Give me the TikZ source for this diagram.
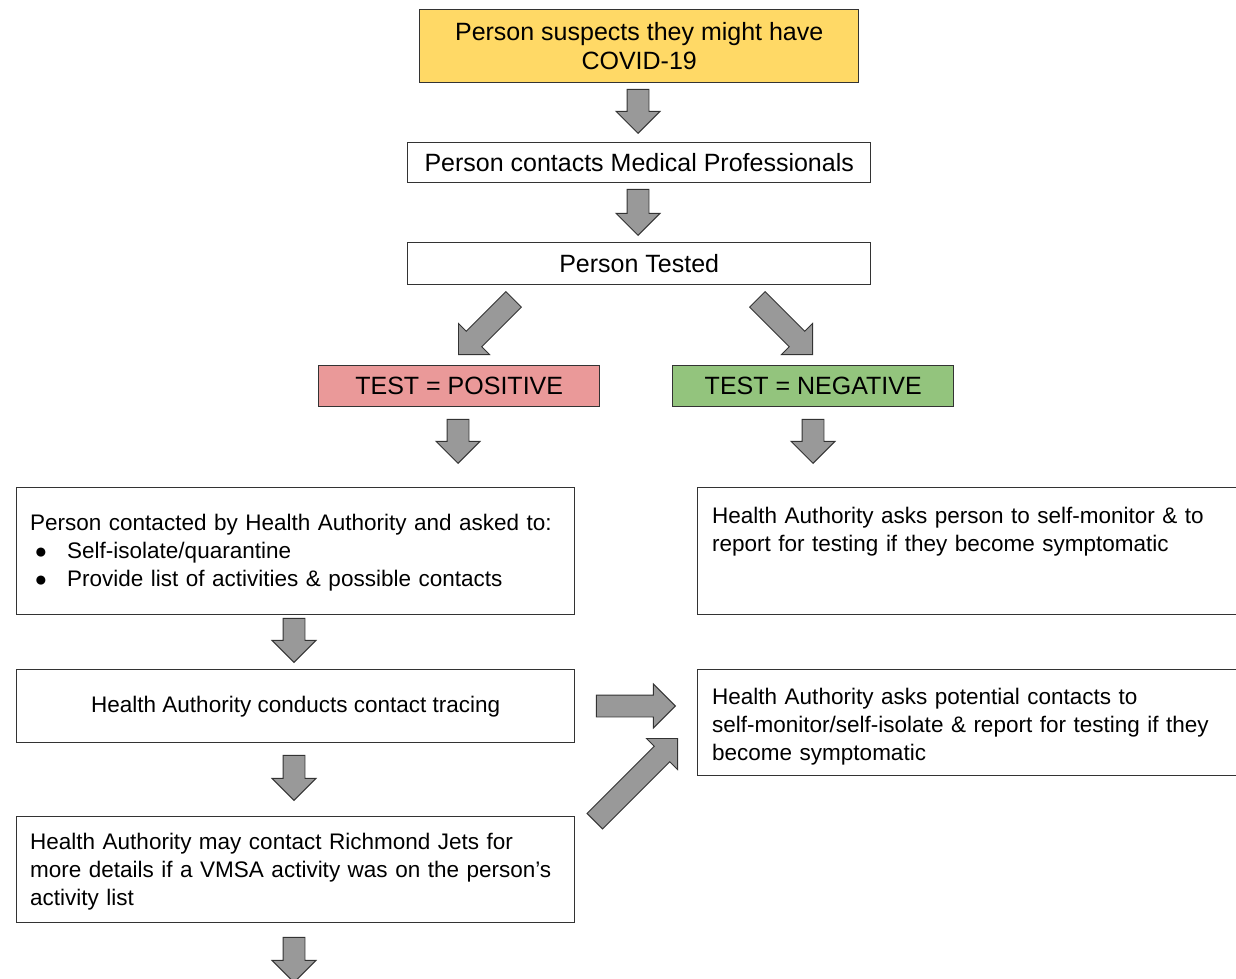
\documentclass[tikz,border=0pt]{standalone}
\usepackage{fontspec}
\setmainfont{Liberation Sans}
\usetikzlibrary{shapes.arrows}
\definecolor{yel}{HTML}{FFD966}
\definecolor{posred}{HTML}{EA9999}
\definecolor{neggreen}{HTML}{93C47D}
\definecolor{arrgray}{HTML}{999999}
\definecolor{edgec}{HTML}{333333}
\newcommand{\fsbig}{\fontsize{25}{29}\selectfont}
\newcommand{\fssmall}{\fontsize{22.5}{28}\selectfont}
\newcommand{\bul}{\hspace*{4.5pt}\makebox[32.5pt][l]{{\fontsize{21}{21}\selectfont ●}}}
\begin{document}
\begin{tikzpicture}[x=1pt,y=-1pt,
  box/.style={draw=edgec, line width=1.4pt, rectangle, inner sep=0pt, anchor=north west, font=\fsbig, text=black},
  txt/.style={inner sep=0pt, anchor=base west, text width=#1, align=left, font=\fssmall, text=black},
  barrow/.style={single arrow, draw=edgec, fill=arrgray, line width=0.9pt, inner xsep=0pt, inner ysep=10.5pt,
    text height=0pt, text depth=0pt, minimum width=43pt, single arrow head extend=11pt,
    single arrow tip angle=90, single arrow head indent=0pt, minimum height=#1, anchor=tip},
]
\clip (0,0) rectangle (1236,979);
\fill[white] (0,0) rectangle (1236,979);

% boxes
\node[box, fill=yel, minimum width=439, minimum height=73, align=center] (suspect) at (419,9) {Person suspects they might have\\COVID-19};
\node[box, fill=white, minimum width=463, minimum height=40] (contacts) at (407,142) {Person contacts Medical Professionals};
\node[box, fill=white, minimum width=463, minimum height=42] (tested) at (407,242) {Person Tested};
\node[box, fill=posred, minimum width=281, minimum height=41] (pos) at (318,365) {TEST = POSITIVE};
\node[box, fill=neggreen, minimum width=281, minimum height=41] (neg) at (672,365) {TEST = NEGATIVE};

\node[box, minimum width=558, minimum height=127] (asked) at (16,487) {};
\node[txt=700] (askedtext) at (30,530) {Person contacted by Health Authority and asked to:\\\bul Self-isolate/quarantine\\\bul Provide list of activities \& possible contacts};

\node[box, minimum width=560, minimum height=127] (monitor) at (697,487) {};
\node[txt=700] (monitortext) at (712,523) {Health Authority asks person to self-monitor \& to\\report for testing if they become symptomatic};

\node[box, minimum width=558, minimum height=73, font=\fssmall] (tracing) at (16,669) {Health Authority conducts contact tracing};

\node[box, minimum width=560, minimum height=106] (potential) at (697,669) {};
\node[txt=700] (potentialtext) at (712,704) {Health Authority asks potential contacts to\\self-monitor/self-isolate \& report for testing if they\\become symptomatic};

\node[box, minimum width=558, minimum height=106] (richmond) at (16,816) {};
\node[txt=700] (richmondtext) at (30,849) {Health Authority may contact Richmond Jets for\\more details if a VMSA activity was on the person’s\\activity list};

% block arrows (placed by their tips)
\node[barrow=44, rotate=-90] (ar1) at (638,134) {};
\node[barrow=46, rotate=-90] (ar2) at (638,236) {};
\node[barrow=78, rotate=-135] (ar3) at (458,355) {};
\node[barrow=78, rotate=-45] (ar4) at (813,355) {};
\node[barrow=44, rotate=-90] (ar5) at (458,464) {};
\node[barrow=44, rotate=-90] (ar6) at (813,464) {};
\node[barrow=44, rotate=-90] (ar7) at (294,663) {};
\node[barrow=45, rotate=-90] (ar8) at (294,801) {};
\node[barrow=79, rotate=0] (ar9) at (676,706) {};
\node[barrow=117, rotate=45] (ar10) at (678,738) {};
\node[barrow=45, rotate=-90] (ar11) at (294,983) {};
\end{tikzpicture}
\end{document}
